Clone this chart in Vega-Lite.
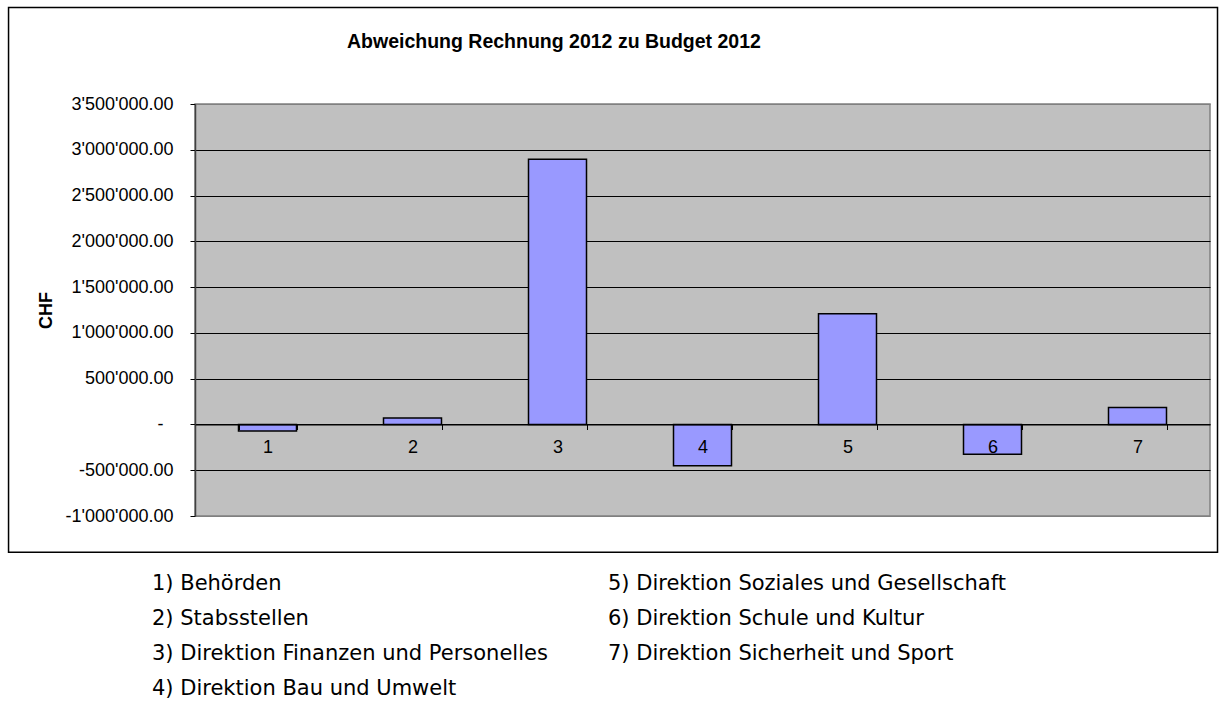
{
  "$schema": "https://vega.github.io/schema/vega-lite/v6.json",
  "autosize": "none",
  "width": 1015,
  "height": 412,
  "padding": {"left": 195, "top": 104, "right": 17, "bottom": 188},
  "background": "white",
  "config": {
    "view": {"fill": "#C0C0C0", "stroke": "#808080", "strokeWidth": 1.5},
    "font": "Liberation Sans"
  },
  "title": {
    "text": "Abweichung Rechnung 2012 zu Budget 2012",
    "font": "Liberation Sans",
    "fontSize": 19.5,
    "fontWeight": "bold",
    "color": "black",
    "frame": "group",
    "anchor": "start",
    "dx": 152,
    "offset": -46
  },
  "datasets": {
    "frame": [{"part": "Diagrammbereich"}],
    "bars": [
      {"nr": "1", "label": "1) Behörden", "value": -72000},
      {"nr": "2", "label": "2) Stabsstellen", "value": 70000},
      {"nr": "3", "label": "3) Direktion Finanzen und Personelles", "value": 2896000},
      {"nr": "4", "label": "4) Direktion Bau und Umwelt", "value": -451000},
      {"nr": "5", "label": "5) Direktion Soziales und Gesellschaft", "value": 1210000},
      {"nr": "6", "label": "6) Direktion Schule und Kultur", "value": -325000},
      {"nr": "7", "label": "7) Direktion Sicherheit und Sport", "value": 186000}
    ]
  },
  "layer": [
    {
      "data": {"name": "frame"},
      "mark": {"type": "rect", "fill": "white", "fillOpacity": 0, "stroke": "black", "strokeWidth": 1.5, "clip": false},
      "encoding": {
        "x": {"datum": -0.1837, "type": "quantitative", "scale": {"domain": [0, 1], "nice": false, "zero": false}, "axis": null},
        "x2": {"datum": 1.0074},
        "y": {"datum": 4554000, "type": "quantitative", "scale": {"domain": [-1000000, 3500000], "nice": false, "zero": false}},
        "y2": {"datum": -1396000}
      }
    },
    {
      "data": {"name": "bars"},
      "mark": {"type": "bar", "stroke": "black", "strokeWidth": 1.5},
      "encoding": {
        "x": {
          "field": "nr",
          "type": "ordinal",
          "sort": "ascending",
          "scale": {"paddingInner": 0.6, "paddingOuter": 0.3},
          "axis": {
            "title": null,
            "orient": "bottom",
            "offset": -91.5,
            "labelAngle": 0,
            "labelFont": "Liberation Sans",
            "labelFontSize": 18,
            "labelColor": "black",
            "labelPadding": 9,
            "tickBand": "extent",
            "tickSize": 5,
            "tickColor": "black",
            "tickWidth": 1,
            "domainColor": "black",
            "domainWidth": 1,
            "zindex": 1
          }
        },
        "y": {
          "field": "value",
          "type": "quantitative",
          "scale": {"domain": [-1000000, 3500000], "nice": false, "zero": false},
          "axis": {
            "title": "CHF",
            "titleFont": "Liberation Sans",
            "titleFontSize": 18,
            "titleFontWeight": "bold",
            "titleColor": "black",
            "titlePadding": 10,
            "values": [-1000000, -500000, 0, 500000, 1000000, 1500000, 2000000, 2500000, 3000000, 3500000],
            "labelExpr": "datum.value == 0 ? '-' : replace(replace(format(datum.value, ',.2f'), regexp(',', 'g'), \"'\"), regexp('\u2212', 'g'), '-')",
            "labelFont": "Liberation Sans",
            "labelFontSize": 18,
            "labelColor": "black",
            "labelPadding": {"condition": {"test": "datum.value == 0", "value": 27}, "value": 17},
            "tickSize": 5,
            "tickColor": "black",
            "domainColor": "#404040",
            "domainWidth": 1.5,
            "grid": true,
            "gridColor": {"condition": {"test": "datum.value == 3500000 || datum.value == -1000000", "value": "#808080"}, "value": "black"},
            "gridWidth": 1,
            "gridOpacity": 1
          }
        },
        "color": {
          "field": "label",
          "type": "nominal",
          "scale": {
            "domain": [
              "1) Behörden",
              "2) Stabsstellen",
              "3) Direktion Finanzen und Personelles",
              "4) Direktion Bau und Umwelt",
              "5) Direktion Soziales und Gesellschaft",
              "6) Direktion Schule und Kultur",
              "7) Direktion Sicherheit und Sport"
            ],
            "range": ["#9999FF", "#9999FF", "#9999FF", "#9999FF", "#9999FF", "#9999FF", "#9999FF"]
          },
          "legend": {
            "title": null,
            "orient": "none",
            "legendX": -64,
            "legendY": 469,
            "columns": 2,
            "columnPadding": 39,
            "rowPadding": 13,
            "labelFont": "DejaVu Sans",
            "labelFontSize": 21,
            "labelColor": "black",
            "labelLimit": 800,
            "labelOffset": 0,
            "symbolSize": 0,
            "symbolOpacity": 0,
            "symbolStrokeWidth": 0,
            "padding": 0
          }
        }
      }
    }
  ],
  "resolve": {"scale": {"x": "independent"}}
}
